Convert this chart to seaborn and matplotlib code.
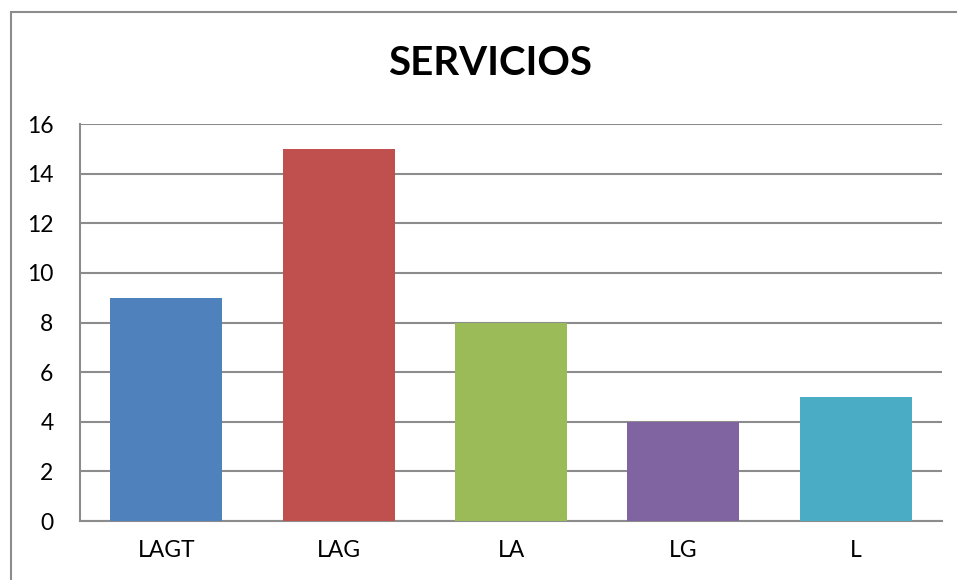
import pandas as pd
import matplotlib
matplotlib.use('Agg')
import matplotlib.pyplot as plt
import seaborn as sns
from matplotlib.patches import Rectangle

# datos del gráfico
categorias = ['LAGT', 'LAG', 'LA', 'LG', 'L']
valores = [9, 15, 8, 4, 5]
colores = ['#4F81BD', '#C0504D', '#9BBB59', '#8064A2', '#4BACC6']
yticks = [0, 2, 4, 6, 8, 10, 12, 14, 16]

df = pd.DataFrame({'servicio': categorias, 'cantidad': valores})

sns.set_style('white')
plt.rcParams['font.family'] = ['Lato', 'DejaVu Sans']
plt.rcParams['text.color'] = 'black'

fig = plt.figure(figsize=(9.57, 5.8), dpi=100)
ax = fig.add_axes([0.0836, 0.1017, 0.9008, 0.6845])

sns.barplot(data=df, x='servicio', y='cantidad', hue='servicio', palette=colores,
            width=0.65, legend=False, ax=ax, saturation=1, linewidth=0, zorder=3)

ax.set_ylim(0, 16)
ax.set_yticks(yticks)
ax.set_xlim(-0.5, 4.5)
ax.grid(axis='y', color='#8c8c8c', linewidth=1.5, zorder=0)
ax.set_axisbelow(True)
ax.set_xlabel('')
ax.set_ylabel('')
ax.tick_params(axis='both', length=0, labelsize=16.5, labelcolor='black')
ax.tick_params(axis='y', pad=19)
ax.tick_params(axis='x', pad=14)
for s in ['top', 'right']:
    ax.spines[s].set_visible(False)
ax.spines['left'].set_color('#8c8c8c')
ax.spines['left'].set_linewidth(1.5)
ax.spines['bottom'].set_color('#8c8c8c')
ax.spines['bottom'].set_linewidth(1.5)

fig.text(0.512, 0.89, 'SERVICIOS', ha='center', va='center', fontsize=29,
         fontweight='bold', color='black')

# marco exterior
fig.patches.append(Rectangle((11 / 957, -0.1), 1.2, (580 - 12) / 580 + 0.1,
                             transform=fig.transFigure, fill=False,
                             edgecolor='#8c8c8c', linewidth=1.5))

fig.savefig('out.png', dpi=100)
